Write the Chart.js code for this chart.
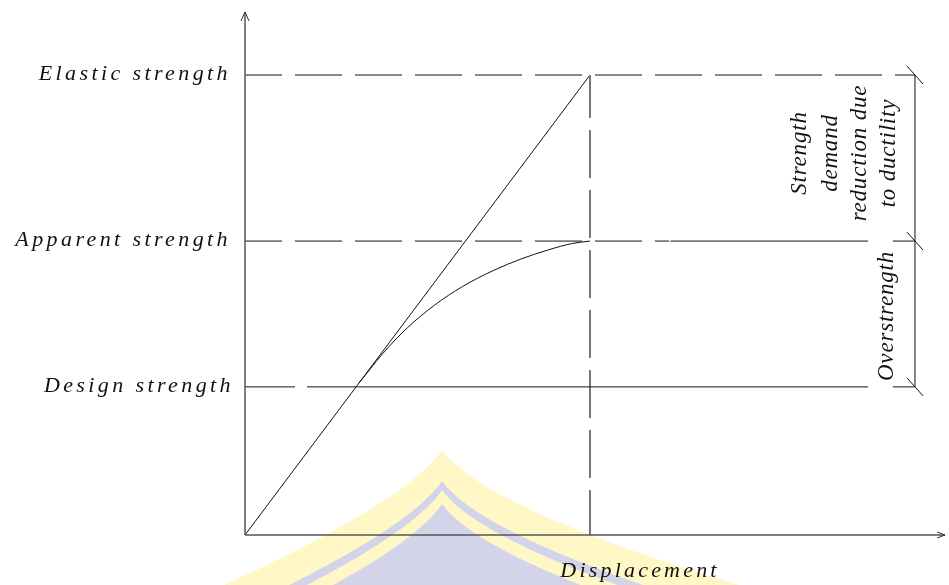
<!DOCTYPE html>
<html>
<head>
<meta charset="utf-8">
<script src="https://cdn.jsdelivr.net/npm/chart.js@4/dist/chart.umd.min.js"></script>
<style>
  html, body { margin: 0; padding: 0; background: #fff; }
  #wrap { width: 949px; height: 585px; }
</style>
</head>
<body>
<div id="wrap"><canvas id="strengthChart" width="949" height="585"></canvas></div>
<script>
// Strength levels (normalised to elastic strength)
const strengthLabels = ['Elastic strength', 'Apparent strength', 'Design strength'];
const strengthValues = [1.0, 0.639, 0.322];

// Elastic response line (displacement, force)
const elasticX = [0, 1.0];
const elasticY = [0, 1.0];

const curveX = [0.33, 0.40, 0.47, 0.55, 0.63, 0.72, 0.80, 0.88, 0.95, 1.0];
const curveY = [0.33, 0.395, 0.45, 0.50, 0.54, 0.575, 0.60, 0.62, 0.634, 0.639];

// Displacement at which the elastic strength is reached
const yieldDisplacement = 1.0;

const axisLabel = 'Displacement';
const reductionLabel = ['Strength', 'demand', 'reduction due', 'to ductility'];
const overstrengthLabel = 'Overstrength';

// axis ranges
const xMax = 2.029;
const yMax = 1.137;

// extents of the reference lines along displacement
const dashEnd = 1.229;
const solidEnd = 1.806;
const dimStart = 1.878;
const dimX = 1.942;

function pts(xs, ys) {
    return xs.map((x, i) => ({ x: x, y: ys[i] }));
}

function hLine(y, x0, x1, dashed) {
    return {
        data: [{ x: x0, y: y }, { x: x1, y: y }],
        borderColor: '#111',
        borderWidth: 1,
        borderDash: dashed ? [47, 13] : [],
        borderDashOffset: dashed ? 10 : 0,
        pointRadius: 0,
        fill: false
    };
}

const datasets = [];
// Elastic strength: dashed all the way to the dimension line
datasets.push(hLine(strengthValues[0], 0, dimX, true));
// Apparent strength: dashed, then solid, then short piece at the dimension line
datasets.push(hLine(strengthValues[1], 0, dashEnd, true));
datasets.push(hLine(strengthValues[1], dashEnd + 0.004, solidEnd, false));
datasets.push(hLine(strengthValues[1], dimStart, dimX, false));
// Design strength: one short dash, then solid
datasets.push(hLine(strengthValues[2], 0, 0.145, false));
datasets.push(hLine(strengthValues[2], 0.18, solidEnd, false));
datasets.push(hLine(strengthValues[2], dimStart, dimX, false));
// vertical dashed line at the yield displacement
datasets.push({
    data: [{ x: yieldDisplacement, y: 0 }, { x: yieldDisplacement, y: strengthValues[0] }],
    borderColor: '#777',
    borderWidth: 2,
    borderDash: [48, 12],
    borderDashOffset: 3,
    pointRadius: 0
});
// elastic line
datasets.push({
    data: pts(elasticX, elasticY),
    borderColor: '#111',
    borderWidth: 1,
    pointRadius: 0
});
// inelastic curve
datasets.push({
    data: pts(curveX, curveY),
    borderColor: '#111',
    borderWidth: 1,
    pointRadius: 0,
    cubicInterpolationMode: 'monotone'
});

// faint logo watermark behind the drawing
const watermarkPlugin = {
    id: 'watermark',
    beforeDatasetsDraw(chart) {
        const ctx = chart.ctx;
        const layers = [[0, '#fff8c6'], [31, '#d3d3ea'], [40, '#fff8c6'], [54, '#d3d3ea']];
        ctx.save();
        layers.forEach(function (l) {
            const dy = l[0];
            ctx.beginPath();
            ctx.moveTo(442, 450 + dy);
            ctx.quadraticCurveTo(495, 524 + dy, 900, 630 + dy);
            ctx.lineTo(120, 630 + dy);
            ctx.quadraticCurveTo(398, 515 + dy, 442, 450 + dy);
            ctx.closePath();
            ctx.fillStyle = l[1];
            ctx.fill();
        });
        ctx.restore();
    }
};

const annotationPlugin = {
    id: 'annotations',
    afterDatasetsDraw(chart) {
        const ctx = chart.ctx;
        const xs = chart.scales.x;
        const ys = chart.scales.y;
        const x0 = xs.getPixelForValue(0);
        const y0 = ys.getPixelForValue(0);
        const area = chart.chartArea;

        ctx.save();
        // axes
        ctx.strokeStyle = '#555';
        ctx.lineWidth = 1.5;
        ctx.beginPath();
        ctx.moveTo(x0, y0);
        ctx.lineTo(x0, area.top);
        ctx.moveTo(x0, y0);
        ctx.lineTo(area.right, y0);
        ctx.stroke();
        // arrow heads
        ctx.lineWidth = 1;
        ctx.strokeStyle = '#333';
        ctx.beginPath();
        ctx.moveTo(x0 - 4, area.top + 9);
        ctx.lineTo(x0, area.top);
        ctx.lineTo(x0 + 4, area.top + 9);
        ctx.moveTo(area.right - 8, y0 - 3);
        ctx.lineTo(area.right, y0);
        ctx.lineTo(area.right - 8, y0 + 3);
        ctx.stroke();

        // strength labels
        ctx.fillStyle = '#111';
        ctx.font = 'italic 22px "Liberation Serif", "DejaVu Serif", serif';
        ctx.letterSpacing = '3.4px';
        ctx.textAlign = 'right';
        ctx.textBaseline = 'middle';
        strengthLabels.forEach(function (lbl, i) {
            const shift = i === 2 ? 3 : 0;
            ctx.fillText(lbl, x0 - 14 + shift, ys.getPixelForValue(strengthValues[i]) - 1);
        });

        // x axis label
        ctx.textAlign = 'center';
        ctx.letterSpacing = '3.2px';
        ctx.fillText(axisLabel, xs.getPixelForValue(yieldDisplacement) + 50, y0 + 36);

        // dimension line with slanted ticks
        const dx = xs.getPixelForValue(dimX);
        ctx.strokeStyle = '#111';
        ctx.lineWidth = 1;
        ctx.beginPath();
        ctx.moveTo(dx, ys.getPixelForValue(strengthValues[0]));
        ctx.lineTo(dx, ys.getPixelForValue(strengthValues[2]));
        strengthValues.forEach(function (v) {
            const py = ys.getPixelForValue(v);
            ctx.moveTo(dx - 8, py - 9);
            ctx.lineTo(dx + 8, py + 9);
        });
        ctx.stroke();

        // rotated annotation texts
        ctx.font = 'italic 23px "Liberation Serif", "DejaVu Serif", serif';
        ctx.letterSpacing = '0.8px';
        const midTop = (ys.getPixelForValue(strengthValues[0]) + ys.getPixelForValue(strengthValues[1])) / 2;
        const midBot = (ys.getPixelForValue(strengthValues[1]) + ys.getPixelForValue(strengthValues[2])) / 2;
        const cols = [800, 831, 860, 889];
        reductionLabel.forEach(function (line, i) {
            ctx.save();
            ctx.translate(cols[i], midTop - 5);
            ctx.rotate(-Math.PI / 2);
            ctx.fillText(line, 0, 0);
            ctx.restore();
        });
        ctx.save();
        ctx.translate(887, midBot + 2);
        ctx.rotate(-Math.PI / 2);
        ctx.fillText(overstrengthLabel, 0, 0);
        ctx.restore();

        ctx.restore();
    }
};

new Chart(document.getElementById('strengthChart').getContext('2d'), {
    type: 'line',
    data: { datasets: datasets },
    options: {
        responsive: false,
        animation: false,
        layout: { padding: { left: 245, right: 4, top: 12, bottom: 50 } },
        plugins: { legend: { display: false }, tooltip: { enabled: false } },
        elements: { line: { tension: 0 } },
        scales: {
            x: { type: 'linear', min: 0, max: xMax, display: false },
            y: { type: 'linear', min: 0, max: yMax, display: false }
        }
    },
    plugins: [watermarkPlugin, annotationPlugin]
});
</script>
</body>
</html>
